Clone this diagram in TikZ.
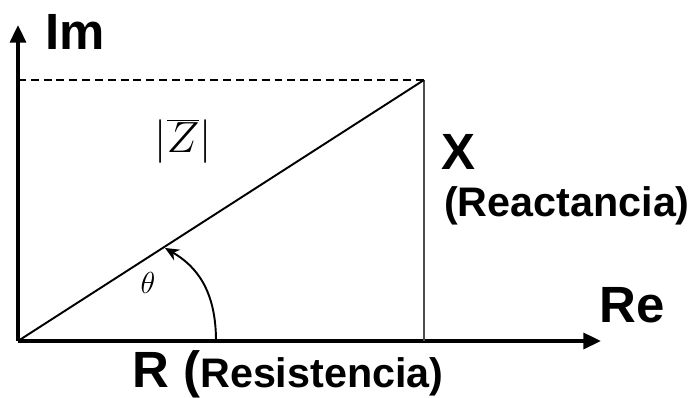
\documentclass[tikz,border=0pt]{standalone}
\usepackage{fontspec}
\setmainfont{Liberation Sans}
\usetikzlibrary{arrows.meta}

\colorlet{figLeg}{black!70}

\begin{document}
\begin{tikzpicture}[x=0.02cm, y=0.02cm,
    axis/.style={line width=2.1pt, -{Triangle[length=10pt,width=9pt]}},
    biglbl/.style={font=\fontsize{29}{33}\bfseries\selectfont, inner sep=0pt, anchor=base},
    smalllbl/.style={font=\fontsize{23.5}{27}\bfseries\selectfont, inner sep=0pt, anchor=base}]
        \useasboundingbox (0,0) rectangle (694,398);
        % vertices of the triangle
        \coordinate (O)  at (18,57);
        \coordinate (Q)  at (424,57);
        \coordinate (P)  at (424,318);
        \coordinate (D)  at (18,318);
        \coordinate (imTip) at (18,373);
        \coordinate (reTip) at (601,57);
        % axes
        \draw[axis] (O)--(imTip);
        \draw[axis] (O)--(reTip);
        \draw[line width=2.8pt] (O)--(Q);
        \draw[line width=1.0pt, dash pattern=on 4.5pt off 2.8pt] (D)--(P);
        \draw[line width=1.1pt, figLeg] (Q)--(P);
        \draw[line width=1.1pt] (O)--(P);
        % angle
        \coordinate (arcA) at (216,57);
        \coordinate (arcB) at (165,150);
        \draw[line width=1.1pt, -{Stealth[length=8pt,width=7pt]}]
              (arcA) .. controls (216,108) and (196,132) .. (arcB);
        \node (theta) at (148,115) {\fontsize{18}{20}\selectfont$\theta$};
        \node (zmod) at (183,257) {\fontsize{23}{26}\selectfont$\left|\overline{Z}\right|$};
        % labels
        \node[biglbl] (im) at (75,348) {Im};
        \node[biglbl] (re) at (632,75) {Re};
        \node[biglbl] (x) at (458,228) {X};
        \node[smalllbl] (reac) at (567,181) {(Reactancia)};
        \node[biglbl, anchor=base west] (r) at (132,10)
              {R (\fontsize{23.5}{27}\selectfont Resistencia)};
      \end{tikzpicture}
\end{document}
